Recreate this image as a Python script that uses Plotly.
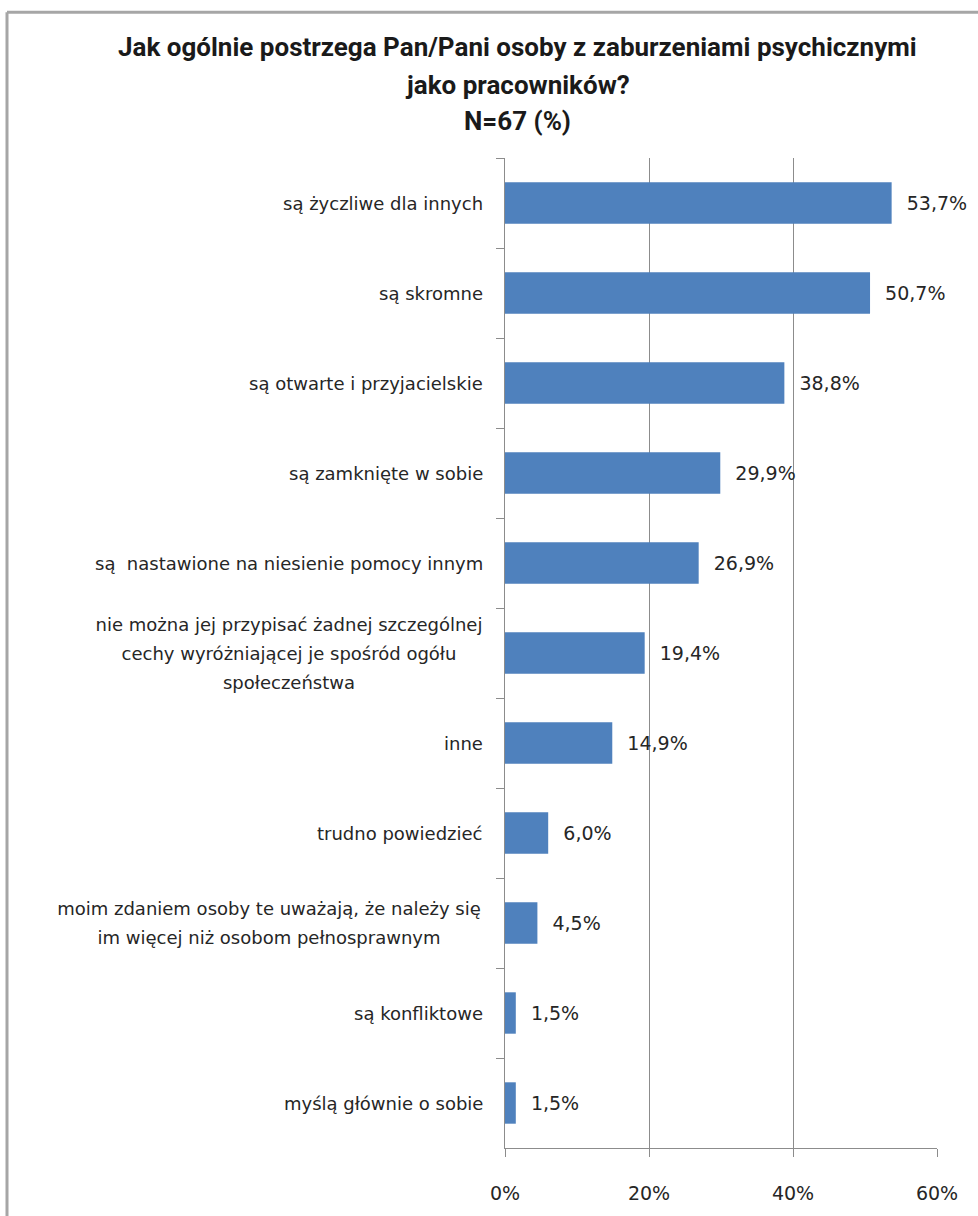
import plotly.graph_objects as go

categories = [
    "są życzliwe dla innych",
    "są skromne",
    "są otwarte i przyjacielskie",
    "są zamknięte w sobie",
    "są\u00a0 nastawione na niesienie pomocy innym",
    "nie można jej przypisać żadnej szczególnej\ncechy wyróżniającej je spośród ogółu\nspołeczeństwa",
    "inne",
    "trudno powiedzieć",
    "moim zdaniem osoby te uważają, że należy się\nim więcej niż osobom pełnosprawnym",
    "są konfliktowe",
    "myślą głównie o sobie",
]
values = [53.7, 50.7, 38.8, 29.9, 26.9, 19.4, 14.9, 6.0, 4.5, 1.5, 1.5]
value_labels = ["53,7%", "50,7%", "38,8%", "29,9%", "26,9%", "19,4%", "14,9%", "6,0%", "4,5%", "1,5%", "1,5%"]
x_ticks = [0, 20, 40, 60]
x_tick_labels = ["0%", "20%", "40%", "60%"]
title_lines = [
    "Jak ogólnie postrzega Pan/Pani osoby z zaburzeniami psychicznymi",
    "jako pracowników?",
    "N=67 (%)",
]

# style: pixel width of the centring box for multi-line labels
label_box_width = {5: 388, 8: 428}

FONT = "DejaVu Sans"
TEXT_COLOR = "#262626"
GRID = "#8c8c8c"

fig = go.Figure()
fig.add_trace(go.Bar(
    y=categories,
    x=values,
    orientation="h",
    marker=dict(color="#4f81bd", line=dict(width=0)),
    text=["\u00a0\u00a0" + t for t in value_labels],
    textposition="outside",
    cliponaxis=False,
    textfont=dict(family=FONT, size=19, color=TEXT_COLOR),
    hoverinfo="skip",
))

annotations = []
for k, cat in enumerate(categories):
    lines = cat.split("\n")
    n = len(lines)
    for i, ln in enumerate(lines):
        ann = dict(
            xref="paper", yref="y", x=0, y=cat,
            text=ln, showarrow=False, xanchor="right", yanchor="middle",
            xshift=-20, yshift=((n - 1) / 2 - i) * 29,
            font=dict(family=FONT, size=18, color=TEXT_COLOR),
        )
        if k in label_box_width:
            ann["width"] = label_box_width[k]
            ann["align"] = "center"
        annotations.append(ann)

title_y = [47, 85, 121]
for ln, yy in zip(title_lines, title_y):
    annotations.append(dict(
        xref="paper", yref="paper",
        x=(517 - 505) / 432, y=1 + (158 - yy) / 992,
        text="<b>" + ln + "</b>", showarrow=False,
        xanchor="center", yanchor="middle",
        font=dict(family="Roboto, sans-serif", size=26, color="#1a1a1a"),
    ))

shapes = [
    dict(type="line", xref="paper", yref="paper",
         x0=(7 - 505) / 432, x1=(990 - 505) / 432,
         y0=1 + (158 - 12) / 992, y1=1 + (158 - 12) / 992,
         line=dict(color="#a6a6a6", width=3)),
    dict(type="line", xref="paper", yref="paper",
         x0=(7 - 505) / 432, x1=(7 - 505) / 432,
         y0=1 + (158 - 12) / 992, y1=(1150 - 1230) / 992,
         line=dict(color="#a6a6a6", width=3)),
]

fig.update_layout(
    width=978, height=1216,
    margin=dict(l=505, r=41, t=158, b=66),
    paper_bgcolor="white", plot_bgcolor="white",
    showlegend=False,
    bargap=0.54,
    annotations=annotations,
    shapes=shapes,
    xaxis=dict(
        range=[0, 60], tickvals=x_ticks, ticktext=x_tick_labels,
        showgrid=True, gridcolor=GRID, gridwidth=1,
        zeroline=False, showline=True, linecolor=GRID, linewidth=1,
        ticks="outside", ticklen=8, tickcolor=GRID,
        ticklabelstandoff=20,
        tickfont=dict(family=FONT, size=19, color=TEXT_COLOR),
        fixedrange=True,
    ),
    yaxis=dict(
        autorange="reversed", showticklabels=False,
        showline=True, linecolor=GRID, linewidth=1,
        ticks="outside", ticklen=8, tickcolor=GRID, tickson="boundaries",
        showgrid=False, fixedrange=True,
    ),
)

fig.write_html("out.html")
